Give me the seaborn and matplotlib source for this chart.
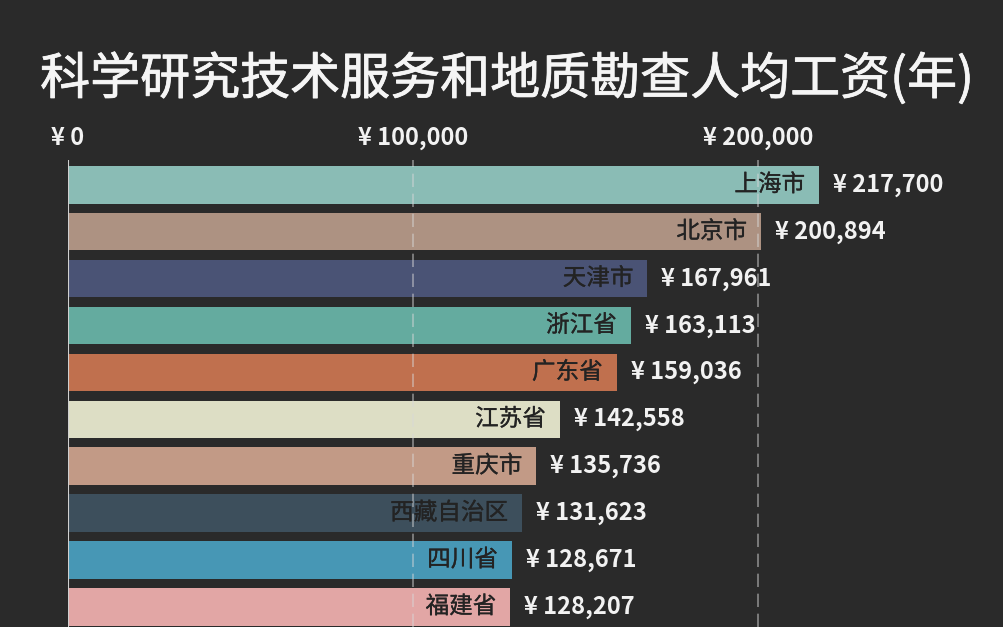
import matplotlib
matplotlib.use("Agg")
import matplotlib.pyplot as plt
import matplotlib.patheffects as pe
import seaborn as sns
import pandas as pd

regions = ["上海市", "北京市", "天津市", "浙江省", "广东省", "江苏省",
           "重庆市", "西藏自治区", "四川省", "福建省"]
wages = [217700, 200894, 167961, 163113, 159036, 142558,
         135736, 131623, 128671, 128207]
colors = ["#8abcb5", "#ad9282", "#4a5375", "#64ab9f", "#c0704e", "#dddec5",
          "#c29a86", "#3d4f5c", "#4797b5", "#e2a6a5"]
tick_values = [0, 100000, 200000]
title = "科学研究技术服务和地质勘查人均工资(年)"

bg = "#2a2a2a"
sns.set_theme(style="dark")
plt.rcParams['font.family'] = ['Noto Sans CJK SC', 'DejaVu Sans']

df = pd.DataFrame({"region": regions, "wage": wages})

fig = plt.figure(figsize=(10.04, 6.27), dpi=100, facecolor=bg)
ax = fig.add_axes([68 / 1004, 0.0, 1 - 68 / 1004, 1 - 160 / 627])
ax.set_facecolor(bg)

sns.barplot(data=df, y="region", x="wage", hue="region", palette=colors,
            order=regions, hue_order=regions, orient="h", dodge=False,
            width=0.8, legend=False, ax=ax, saturation=1, zorder=2,
            edgecolor="none", linewidth=0)

ax.set_xlim(0, 271300)
ax.set_ylim(9.43, -0.53)

for s in ax.spines.values():
    s.set_visible(False)

ax.xaxis.tick_top()
ax.set_xticks(tick_values)
ax.set_xticklabels([f"¥ {v:,}" for v in tick_values], color="#f2f2f2",
                   fontsize=17, fontweight="bold")
ax.tick_params(axis="x", length=0, pad=7)
ax.set_yticks([])
ax.set_xlabel("")
ax.set_ylabel("")
ax.grid(False)

ax.axvline(0, color="#d0d0d0", lw=1.5, zorder=3)
for v in tick_values[1:]:
    ax.axvline(v, color="#d8d8d8", lw=1.2, ls=(0, (8, 4)), alpha=0.55, zorder=3)

for i, (r, w) in enumerate(zip(regions, wages)):
    ax.annotate(r, xy=(w, i), xytext=(-10, 0), textcoords="offset points",
                ha="right", va="center", fontsize=17, color="#232323", zorder=4,
                path_effects=[pe.withStroke(linewidth=0.2, foreground="#232323")])
    ax.annotate(f"¥ {w:,}", xy=(w, i), xytext=(10, 0), textcoords="offset points",
                ha="left", va="center", fontsize=17, color="#f2f2f2",
                fontweight="bold", zorder=4)

fig.text(0.505, 1 - 80 / 627, title, ha="center", va="center",
         fontsize=36, color="#f5f5f5",
         path_effects=[pe.withStroke(linewidth=0.6, foreground="#f5f5f5")])

fig.savefig("out.png", dpi=100, facecolor=bg)
